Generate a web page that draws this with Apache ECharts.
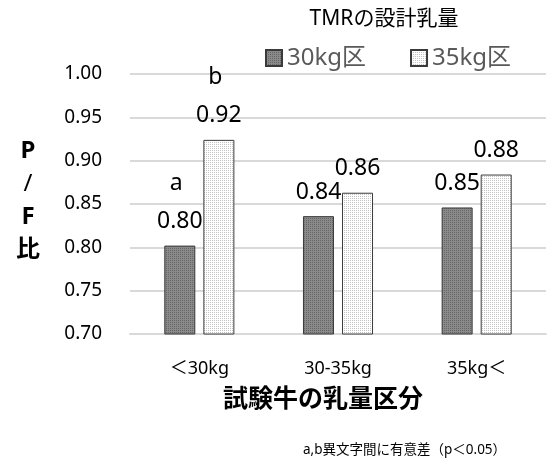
<!DOCTYPE html>
<html>
<head>
<meta charset="utf-8">
<script src="https://cdn.jsdelivr.net/npm/echarts@6/dist/echarts.min.js"></script>
<style>
  html, body { margin: 0; padding: 0; background: #fff; }
  #chart { width: 547px; height: 459px; }
</style>
</head>
<body>
<div id="chart"></div>
<script>
// 試験牛の乳量区分ごとの P/F 比
const categories = ['＜30kg', '30-35kg', '35kg＜'];
const seriesNames = ['30kg区', '35kg区'];
const values30 = [0.802, 0.836, 0.846];
const values35 = [0.924, 0.863, 0.884];
// 有意差の記号（異文字間に有意差）
const sig30 = ['a', '', ''];
const sig35 = ['b', '', ''];
const yTicks = { min: 0.70, max: 1.00, step: 0.05 };

const FONT = "'Noto Sans', 'Noto Sans CJK JP', sans-serif";

// 細かい点の格子模様
function makePattern(bg, dot, step) {
  const c = document.createElement('canvas');
  c.width = step; c.height = step;
  const g = c.getContext('2d');
  g.fillStyle = bg; g.fillRect(0, 0, step, step);
  g.fillStyle = dot;
  g.fillRect(0, 0, 1, 1);
  return c;
}
const darkFill = { image: makePattern('#8a8a8a', '#666666', 2), repeat: 'repeat' };
const lightFill = { image: makePattern('#ffffff', '#c2c2c2', 2), repeat: 'repeat' };

function labelFor(sigs) {
  return {
    show: true,
    position: 'top',
    distance: 10,
    formatter: p => {
      const s = sigs[p.dataIndex];
      const v = '{v|' + p.value.toFixed(2) + '}';
      return s ? '{s|' + s + '}\n' + v : v;
    },
    rich: {
      v: { fontFamily: FONT, fontSize: 23, color: '#000', lineHeight: 28 },
      s: { fontFamily: FONT, fontSize: 23, color: '#000', lineHeight: 48, padding: [0, 7, 0, 0] }
    }
  };
}

const chart = echarts.init(document.getElementById('chart'), null, { renderer: 'canvas' });
chart.setOption({
  animation: false,
  backgroundColor: '#fff',
  grid: { left: 130, right: 1, top: 74, bottom: 125 },
  legend: {
    left: 260, top: 41,
    icon: 'rect',
    itemWidth: 16, itemHeight: 16, itemGap: 44, itemTextGap: 7,
    data: seriesNames,
    textStyle: { fontFamily: FONT, fontSize: 24, color: '#595959' }
  },
  xAxis: {
    type: 'category',
    data: categories,
    axisLine: { lineStyle: { color: '#d9d9d9', width: 2 } },
    axisTick: { show: false },
    axisLabel: { fontFamily: FONT, fontSize: 18, color: '#000', margin: 26 }
  },
  yAxis: {
    type: 'value',
    min: yTicks.min, max: yTicks.max, interval: yTicks.step,
    axisLine: { show: false },
    axisTick: { show: false },
    splitLine: { lineStyle: { color: '#d9d9d9', width: 2 } },
    axisLabel: {
      fontFamily: FONT, fontSize: 19, color: '#000', margin: 28,
      formatter: v => v.toFixed(2)
    }
  },
  series: [
    {
      name: seriesNames[0], type: 'bar', data: values30,
      barWidth: 31, barGap: '26%',
      itemStyle: { color: darkFill, borderColor: '#3a3a3a', borderWidth: 1 },
      label: labelFor(sig30)
    },
    {
      name: seriesNames[1], type: 'bar', data: values35,
      barWidth: 31, barGap: '26%',
      itemStyle: { color: lightFill, borderColor: '#3a3a3a', borderWidth: 1 },
      label: labelFor(sig35)
    }
  ],
  graphic: [
    {
      type: 'text', x: 384, y: 19,
      style: { text: 'TMRの設計乳量', fontFamily: FONT, fontSize: 21, fill: '#000',
               textAlign: 'center', textVerticalAlign: 'middle' }
    },
    {
      type: 'text', x: 28, y: 201,
      style: {
        text: '{b|P}\n{n|/}\n{b|F}\n{b|比}',
        textAlign: 'center', textVerticalAlign: 'middle',
        rich: {
          b: { fontFamily: FONT, fontSize: 24, fontWeight: 'bold', fill: '#000', lineHeight: 33, align: 'center' },
          n: { fontFamily: FONT, fontSize: 24, fill: '#000', lineHeight: 33, align: 'center' }
        }
      }
    },
    {
      type: 'text', x: 323, y: 400,
      style: { text: '試験牛の乳量区分', fontFamily: FONT, fontSize: 25, fontWeight: 'bold',
               fill: '#000', textAlign: 'center', textVerticalAlign: 'middle' }
    },
    {
      type: 'text', x: 303, y: 450,
      style: { text: 'a,b異文字間に有意差（p＜0.05）', fontFamily: FONT, fontSize: 13.5,
               fill: '#000', textAlign: 'left', textVerticalAlign: 'middle' }
    }
  ]
});
</script>
</body>
</html>
